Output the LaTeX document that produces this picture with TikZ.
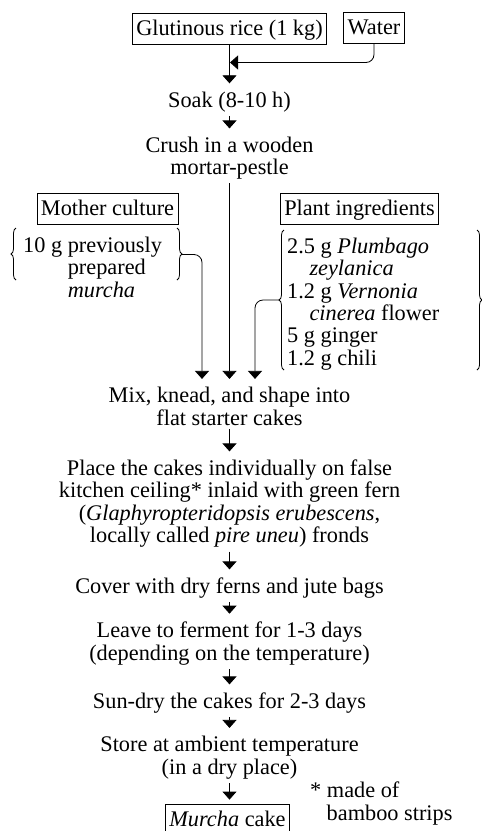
\documentclass[tikz,border=0pt]{standalone}
\usepackage{fontspec}
\setmainfont{Liberation Serif}
\usetikzlibrary{arrows.meta,decorations.pathreplacing}

\begin{document}
\begin{tikzpicture}[x=1pt, y=-1pt,
    font=\fontsize{22.3}{22.4}\selectfont,
    box/.style={draw, line width=0.8pt, inner xsep=4pt, inner ysep=4.5pt,
        text height=17.5pt, text depth=4.5pt},
    txt/.style={align=center, anchor=base, inner xsep=3pt, inner ysep=4pt},
    grp/.style={align=left, anchor=base west, inner sep=0pt},
    arr/.style={-{Triangle[length=8pt,width=14pt]}, line width=0.8pt, shorten >=4pt},
    brc/.style={decorate, decoration={brace, amplitude=5pt}, line width=0.8pt}]
    \useasboundingbox (0,0) rectangle (482,831);

    % Raw materials
    \node[box] (rice) at (229.5,28.5) {Glutinous rice (1 kg)};
    \node[box] (water) at (374,28) {Water};
    \coordinate (join) at (230,62.5);

    % Preparation steps
    \node[txt] (soak) at (229.5,107) {Soak (8-10 h)};
    \node[txt] (crush) at (229.5,174.5) {Crush in a wooden\\mortar-pestle};

    % Starter and plant ingredients
    \node[box] (mother) at (107.5,209) {Mother culture};
    \node[box] (plant) at (359.5,209) {Plant ingredients};
    \node[grp] (cult) at (23,297) {10 g previously\\\hspace*{2em}prepared\\\hspace*{2em}\textit{murcha}};
    \node[grp] (herbs) at (287,365.3) {2.5 g \textit{Plumbago}\\\hspace*{1em}\textit{zeylanica}\\1.2 g \textit{Vernonia}\\\hspace*{1em}\textit{cinerea} flower\\5 g ginger\\1.2 g chili};
    \draw[brc] (16,280) -- (16,228);
    \draw[brc] (177,228) -- (177,280);
    \draw[brc] (284,370) -- (284,230);
    \draw[brc] (477,230) -- (477,370);
    \coordinate (cultTip) at (182,254.5);
    \coordinate (herbTip) at (279,300);

    % Cake making
    \node[txt] (mix) at (229.5,425) {Mix, knead, and shape into\\flat starter cakes};
    \node[txt] (place) at (229.5,542.5) {Place the cakes individually on false\\kitchen ceiling* inlaid with green fern\\(\textit{Glaphyropteridopsis erubescens},\\locally called \textit{pire uneu}) fronds};
    \node[txt] (cover) at (229.5,593.3) {Cover with dry ferns and jute bags};
    \node[txt] (leave) at (229.5,660) {Leave to ferment for 1-3 days\\(depending on the temperature)};
    \node[txt] (sundry) at (229.5,708.3) {Sun-dry the cakes for 2-3 days};
    \node[txt] (store) at (229.5,774) {Store at ambient temperature\\(in a dry place)};
    \node[box] (cake) at (227.5,819.5) {\textit{Murcha} cake};
    \node[grp] (note) at (310,820) {* made of\\\hspace*{16.5pt}bamboo strips};

    % Arrows
    \draw[arr] (rice) -- (soak);
    \draw[arr, shorten >=0pt, rounded corners=8pt] (water.south) |- (join);
    \draw[arr] (soak) -- (crush);
    \draw[arr] (crush) -- (mix);
    \draw[arr, rounded corners=8pt] (cultTip) -| ([xshift=-27.5pt]mix.north);
    \draw[arr, rounded corners=8pt] (herbTip) -| ([xshift=25.5pt]mix.north);
    \draw[arr] (mix) -- (place);
    \draw[arr] (place) -- (cover);
    \draw[arr] (cover) -- (leave);
    \draw[arr] (leave) -- (sundry);
    \draw[arr] (sundry) -- (store);
    \draw[arr] (store) -- (store.south |- cake.north);
\end{tikzpicture}
\end{document}
